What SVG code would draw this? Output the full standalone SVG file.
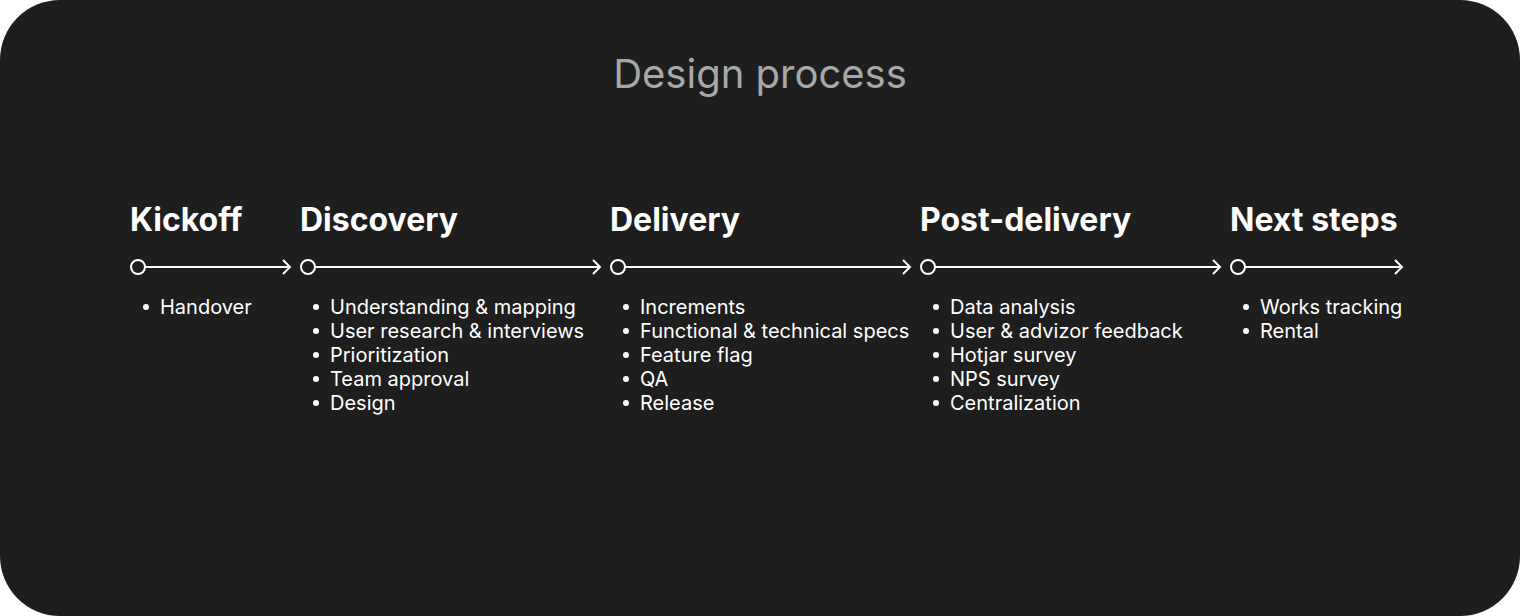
<svg xmlns="http://www.w3.org/2000/svg" width="1520" height="616" viewBox="0 0 1520 616">
<defs>
<marker id="arr" markerWidth="12" markerHeight="16" refX="10" refY="8" orient="auto" markerUnits="userSpaceOnUse">
<path d="M3,1 L10,8 L3,15" fill="none" stroke="#fff" stroke-width="2"/>
</marker>
<style>
.title{font-family:Inter,"Liberation Sans",sans-serif;font-size:40px;fill:#a8a8a8}
.h{font-family:Inter,"Liberation Sans",sans-serif;font-size:32px;font-weight:700;fill:#fff}
.li{font-family:Inter,"Liberation Sans",sans-serif;font-size:20px;fill:#fff}
.dot{fill:#fff}
.node{fill:none;stroke:#fff;stroke-width:2}
.line{stroke:#fff;stroke-width:2;fill:none}
</style>
</defs>
<rect x="0" y="0" width="1520" height="616" rx="60" ry="60" fill="#1e1e1e"/>
<text class="title" x="760" y="88" text-anchor="middle">Design process</text>
<g id="connectors">
<line class="line" x1="145" y1="267" x2="290" y2="267" marker-end="url(#arr)"/>
<line class="line" x1="315" y1="267" x2="600" y2="267" marker-end="url(#arr)"/>
<line class="line" x1="625" y1="267" x2="910" y2="267" marker-end="url(#arr)"/>
<line class="line" x1="935" y1="267" x2="1220" y2="267" marker-end="url(#arr)"/>
<line class="line" x1="1245" y1="267" x2="1402" y2="267" marker-end="url(#arr)"/>
</g>
<g id="kickoff">
<text class="h" x="130" y="231">Kickoff</text>
<circle class="node" cx="138" cy="267" r="7"/>
<circle class="dot" cx="146" cy="307" r="3"/><text class="li" x="160" y="314">Handover</text>
</g>
<g id="discovery">
<text class="h" x="300" y="231">Discovery</text>
<circle class="node" cx="308" cy="267" r="7"/>
<circle class="dot" cx="316" cy="307" r="3"/><text class="li" x="330" y="314">Understanding &amp; mapping</text>
<circle class="dot" cx="316" cy="331" r="3"/><text class="li" x="330" y="338">User research &amp; interviews</text>
<circle class="dot" cx="316" cy="355" r="3"/><text class="li" x="330" y="362">Prioritization</text>
<circle class="dot" cx="316" cy="379" r="3"/><text class="li" x="330" y="386">Team approval</text>
<circle class="dot" cx="316" cy="403" r="3"/><text class="li" x="330" y="410">Design</text>
</g>
<g id="delivery">
<text class="h" x="610" y="231">Delivery</text>
<circle class="node" cx="618" cy="267" r="7"/>
<circle class="dot" cx="626" cy="307" r="3"/><text class="li" x="640" y="314">Increments</text>
<circle class="dot" cx="626" cy="331" r="3"/><text class="li" x="640" y="338">Functional &amp; technical specs</text>
<circle class="dot" cx="626" cy="355" r="3"/><text class="li" x="640" y="362">Feature flag</text>
<circle class="dot" cx="626" cy="379" r="3"/><text class="li" x="640" y="386">QA</text>
<circle class="dot" cx="626" cy="403" r="3"/><text class="li" x="640" y="410">Release</text>
</g>
<g id="post-delivery">
<text class="h" x="920" y="231">Post-delivery</text>
<circle class="node" cx="928" cy="267" r="7"/>
<circle class="dot" cx="936" cy="307" r="3"/><text class="li" x="950" y="314">Data analysis</text>
<circle class="dot" cx="936" cy="331" r="3"/><text class="li" x="950" y="338">User &amp; advizor feedback</text>
<circle class="dot" cx="936" cy="355" r="3"/><text class="li" x="950" y="362">Hotjar survey</text>
<circle class="dot" cx="936" cy="379" r="3"/><text class="li" x="950" y="386">NPS survey</text>
<circle class="dot" cx="936" cy="403" r="3"/><text class="li" x="950" y="410">Centralization</text>
</g>
<g id="next-steps">
<text class="h" x="1230" y="231">Next steps</text>
<circle class="node" cx="1238" cy="267" r="7"/>
<circle class="dot" cx="1246" cy="307" r="3"/><text class="li" x="1260" y="314">Works tracking</text>
<circle class="dot" cx="1246" cy="331" r="3"/><text class="li" x="1260" y="338">Rental</text>
</g>
</svg>
